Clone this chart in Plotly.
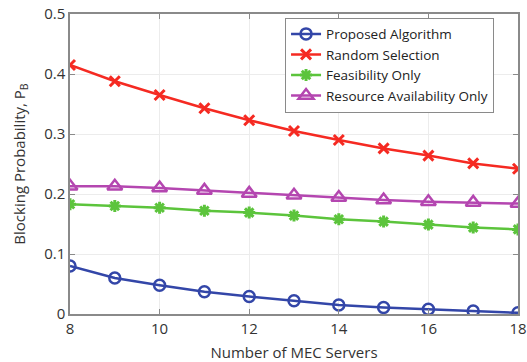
import plotly.graph_objects as go

servers = [8, 9, 10, 11, 12, 13, 14, 15, 16, 17, 18]
proposed = [0.080, 0.060, 0.048, 0.037, 0.029, 0.022, 0.015, 0.011, 0.008, 0.005, 0.002]
random_sel = [0.415, 0.388, 0.365, 0.343, 0.323, 0.305, 0.290, 0.276, 0.264, 0.251, 0.242]
feasibility = [0.183, 0.180, 0.177, 0.172, 0.169, 0.164, 0.158, 0.154, 0.149, 0.144, 0.141]
resource = [0.213, 0.213, 0.210, 0.206, 0.201, 0.198, 0.194, 0.190, 0.187, 0.186, 0.184]

xticks = [8, 10, 12, 14, 16, 18]
yticks = [0, 0.1, 0.2, 0.3, 0.4, 0.5]
ytick_labels = ["0", "0.1", "0.2", "0.3", "0.4", "0.5"]

fig = go.Figure()
fig.add_trace(go.Scatter(x=servers, y=proposed, name="Proposed Algorithm", mode="lines+markers",
                         line=dict(color="#3346a8", width=2.5),
                         marker=dict(symbol="circle-open", size=11, line=dict(width=2.5, color="#3346a8"))))
fig.add_trace(go.Scatter(x=servers, y=random_sel, name="Random Selection", mode="lines+markers",
                         line=dict(color="#f52a22", width=2.5),
                         marker=dict(symbol="x-thin-open", size=10, line=dict(width=3, color="#f52a22"))))
fig.add_trace(go.Scatter(x=servers, y=feasibility, name="Feasibility Only", mode="lines+markers",
                         line=dict(color="#5cc43c", width=2.5),
                         marker=dict(symbol="asterisk-open", size=10, line=dict(width=3, color="#5cc43c"))))
fig.add_trace(go.Scatter(x=servers, y=resource, name="Resource Availability Only", mode="lines+markers",
                         line=dict(color="#b446b0", width=2.5),
                         marker=dict(symbol="triangle-up-open", size=13, line=dict(width=2.5, color="#b446b0"))))

axis_common = dict(showline=True, linecolor="#8a8a8a", linewidth=1.5, mirror="ticks",
                   ticks="inside", ticklen=5, tickcolor="#8a8a8a", automargin=False,
                   ticklabeloverflow="allow",
                   showgrid=True, gridcolor="#ececec", gridwidth=1, zeroline=False,
                   tickfont=dict(family="Open Sans", size=15, color="#333333"))

fig.update_layout(
    width=527, height=362,
    margin=dict(l=70, r=9, t=14, b=48),
    paper_bgcolor="white", plot_bgcolor="white",
    font=dict(family="Open Sans", color="#333333"),
    xaxis=dict(range=[8, 18], tickvals=xticks,
               title=dict(text="Number of MEC Servers", font=dict(size=15, family="Open Sans"), standoff=11),
               **axis_common),
    yaxis=dict(range=[0, 0.5], tickvals=yticks, ticktext=ytick_labels,
               title=dict(text="Blocking Probability, P<sub>B</sub>", font=dict(size=15, family="Open Sans"), standoff=15),
               **axis_common),
    legend=dict(x=0.48, y=0.988, xanchor="left", yanchor="top",
                bgcolor="white", bordercolor="#8a8a8a", borderwidth=1,
                font=dict(size=13.5, family="Open Sans", color="#222222"),
                tracegroupgap=0, itemwidth=30),
    showlegend=True,
)

fig.write_html("out.html", config={"displayModeBar": False},
               post_script="document.body.style.margin='0px';document.body.style.overflow='hidden';")
